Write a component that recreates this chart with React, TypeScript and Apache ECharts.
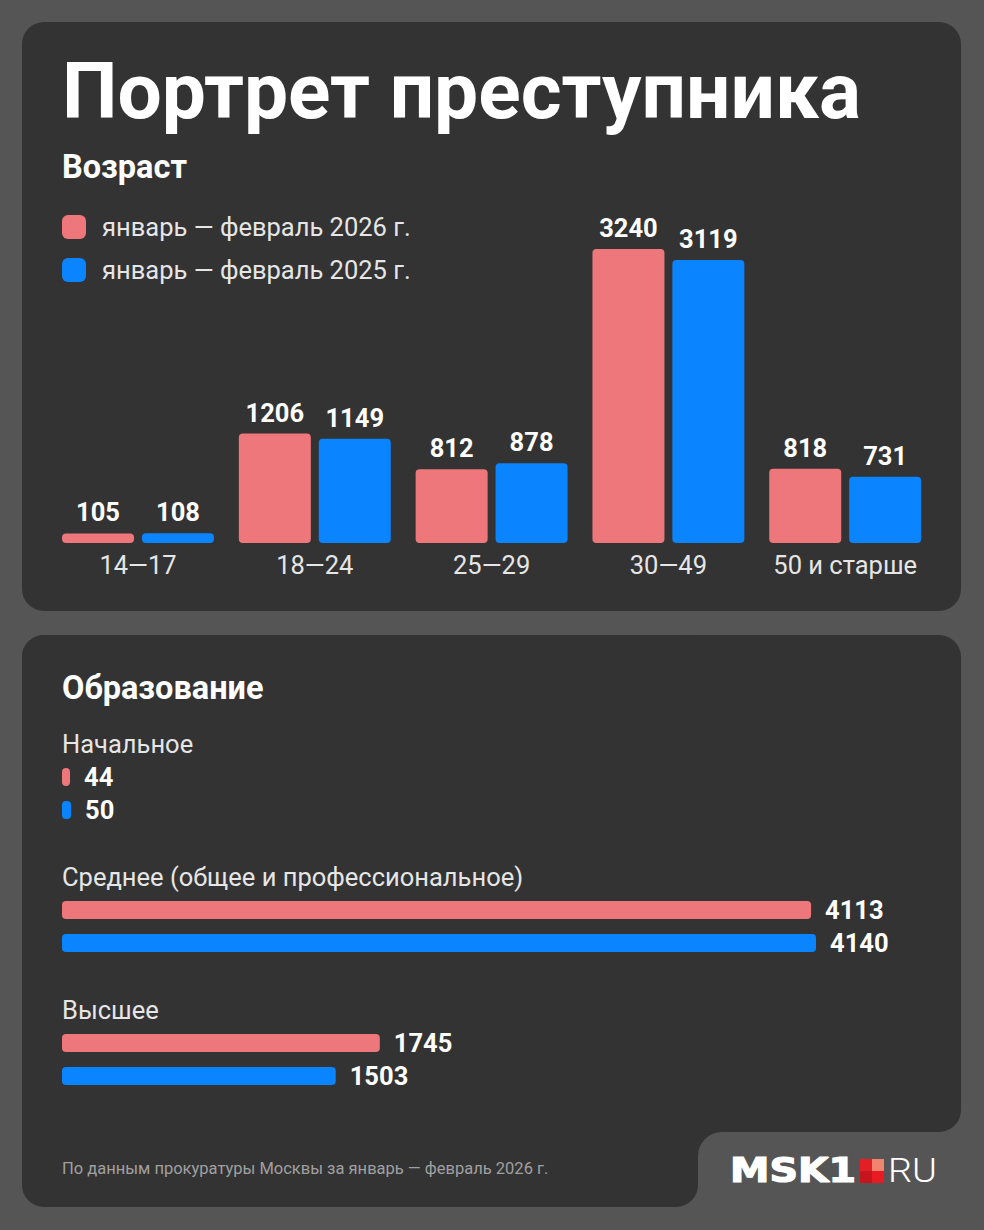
import React, { useEffect, useRef } from "react";
import * as echarts from "echarts";

const seriesNames = ["январь — февраль 2026 г.", "январь — февраль 2025 г."];
const ageCategories = ["14—17", "18—24", "25—29", "30—49", "50 и старше"];
const age2026 = [105, 1206, 812, 3240, 818];
const age2025 = [108, 1149, 878, 3119, 731];
const eduCategories = ["Начальное", "Среднее (общее и профессиональное)", "Высшее"];
const edu2026 = [44, 4113, 1745];
const edu2025 = [50, 4140, 1503];

const PINK = "#ee777b";
const BLUE = "#0a84ff";
const CARD = "#333333";
const PAGE = "#555555";
const FS = 25.5;

export default function App() {
  const ref = useRef<HTMLDivElement>(null);
  useEffect(() => {
    if (!ref.current) return;
    const chart = echarts.init(ref.current, undefined, { renderer: "svg" });
    const ageMax = Math.max(...age2026, ...age2025);
    const eduMax = Math.max(...edu2026, ...edu2025);
    const valueLabel = (pos: string, dist: number) => ({
      show: true,
      position: pos,
      distance: dist,
      color: "#fff",
      fontSize: FS,
      fontWeight: "bold",
    });
    const option: any = {
      animation: false,
      backgroundColor: PAGE,
      textStyle: { fontFamily: "Roboto" },
      legend: {
        orient: "vertical",
        left: 62,
        top: 214,
        padding: 0,
        itemWidth: 24,
        itemHeight: 24,
        itemGap: 17,
        icon: "roundRect",
        data: seriesNames,
        selectedMode: false,
        textStyle: { color: "#e6e6e6", fontSize: FS, padding: [0, 0, 0, 11] },
      },
      grid: [
        { left: 49.6, width: 884, top: 249, height: 294 },
        { left: 62, width: 754, top: 727, height: 399 },
      ],
      xAxis: [
        {
          type: "category",
          gridIndex: 0,
          data: ageCategories,
          axisLine: { show: false },
          axisTick: { show: false },
          axisLabel: { color: "#e6e6e6", fontSize: FS, margin: 9, interval: 0, hideOverlap: false },
        },
        {
          type: "value",
          gridIndex: 1,
          min: 0,
          max: eduMax,
          show: false,
          splitLine: { show: false },
        },
      ],
      yAxis: [
        {
          type: "value",
          gridIndex: 0,
          min: 0,
          max: ageMax,
          show: false,
          splitLine: { show: false },
        },
        {
          type: "category",
          gridIndex: 1,
          inverse: true,
          data: eduCategories,
          axisLine: { show: false },
          axisTick: { show: false },
          axisLabel: {
            inside: true,
            interval: 0,
            margin: 0,
            align: "left",
            verticalAlign: "middle",
            color: "#e6e6e6",
            fontSize: FS,
            lineHeight: 33,
            formatter: (v: string) => v + "\n \n \n ",
          },
        },
      ],
      series: [
        {
          name: seriesNames[0],
          type: "bar",
          xAxisIndex: 0,
          yAxisIndex: 0,
          data: age2026,
          barWidth: 72,
          barGap: "11%",
          itemStyle: { color: PINK, borderRadius: 4 },
          label: valueLabel("top", 8),
        },
        {
          name: seriesNames[1],
          type: "bar",
          xAxisIndex: 0,
          yAxisIndex: 0,
          data: age2025,
          barWidth: 72,
          barGap: "11%",
          itemStyle: { color: BLUE, borderRadius: 4 },
          label: valueLabel("top", 8),
        },
        {
          name: seriesNames[0],
          type: "bar",
          xAxisIndex: 1,
          yAxisIndex: 1,
          data: edu2026,
          barWidth: 18,
          barGap: "83%",
          itemStyle: { color: PINK, borderRadius: 4 },
          label: valueLabel("right", 14),
        },
        {
          name: seriesNames[1],
          type: "bar",
          xAxisIndex: 1,
          yAxisIndex: 1,
          data: edu2025,
          barWidth: 18,
          barGap: "83%",
          itemStyle: { color: BLUE, borderRadius: 4 },
          label: valueLabel("right", 14),
        },
      ],
      graphic: [
        { type: "rect", z: -10, shape: { x: 22, y: 22, width: 939, height: 589, r: 22 }, style: { fill: CARD } },
        { type: "rect", z: -10, shape: { x: 22, y: 635, width: 939, height: 497, r: 22 }, style: { fill: CARD } },
        { type: "rect", z: -10, shape: { x: 22, y: 635, width: 676, height: 572, r: 22 }, style: { fill: CARD } },
        { type: "rect", z: -10, shape: { x: 698, y: 1120, width: 30, height: 40 }, style: { fill: CARD } },
        { type: "rect", z: -9, shape: { x: 698, y: 1132, width: 300, height: 110, r: [24, 0, 0, 0] }, style: { fill: PAGE } },
        {
          type: "text", z: 5, x: 62, y: 91,
          style: { text: "Портрет преступника", fill: "#fff", font: "bold 78.5px Roboto", textVerticalAlign: "middle" },
        },
        {
          type: "text", z: 5, x: 62, y: 167,
          style: { text: "Возраст", fill: "#fff", font: "bold 32.5px Roboto", textVerticalAlign: "middle" },
        },
        {
          type: "text", z: 5, x: 62, y: 688,
          style: { text: "Образование", fill: "#fff", font: "bold 32.5px Roboto", textVerticalAlign: "middle" },
        },
        {
          type: "text", z: 5, x: 62, y: 1168,
          style: { text: "По данным прокуратуры Москвы за январь — февраль 2026 г.", fill: "#a0a0a0", font: "16.5px Roboto", textVerticalAlign: "middle" },
        },
        {
          type: "text", z: 5, x: 730, y: 1171, scaleX: 1.2,
          style: { text: "MSK1", fill: "#fff", font: "900 33px 'DejaVu Sans'", stroke: "#fff", lineWidth: 1.2, textVerticalAlign: "middle" },
        },
        { type: "rect", z: 5, shape: { x: 860, y: 1159, width: 12, height: 12 }, style: { fill: "#e31e24" } },
        { type: "rect", z: 5, shape: { x: 872, y: 1159, width: 12, height: 12 }, style: { fill: "#f2836f" } },
        { type: "rect", z: 5, shape: { x: 860, y: 1171, width: 12, height: 12 }, style: { fill: "#c4161c" } },
        { type: "rect", z: 5, shape: { x: 872, y: 1171, width: 12, height: 12 }, style: { fill: "#ea1a22" } },
        {
          type: "text", z: 5, x: 888, y: 1171, scaleX: 1.15,
          style: { text: "RU", fill: "#fff", font: "300 33px Roboto", textVerticalAlign: "middle" },
        },
      ],
    };
    chart.setOption(option);
    return () => chart.dispose();
  }, []);
  return (
    <div
      ref={ref}
      style={{ position: "absolute", left: 0, top: 0, width: 984, height: 1230 }}
    />
  );
}
